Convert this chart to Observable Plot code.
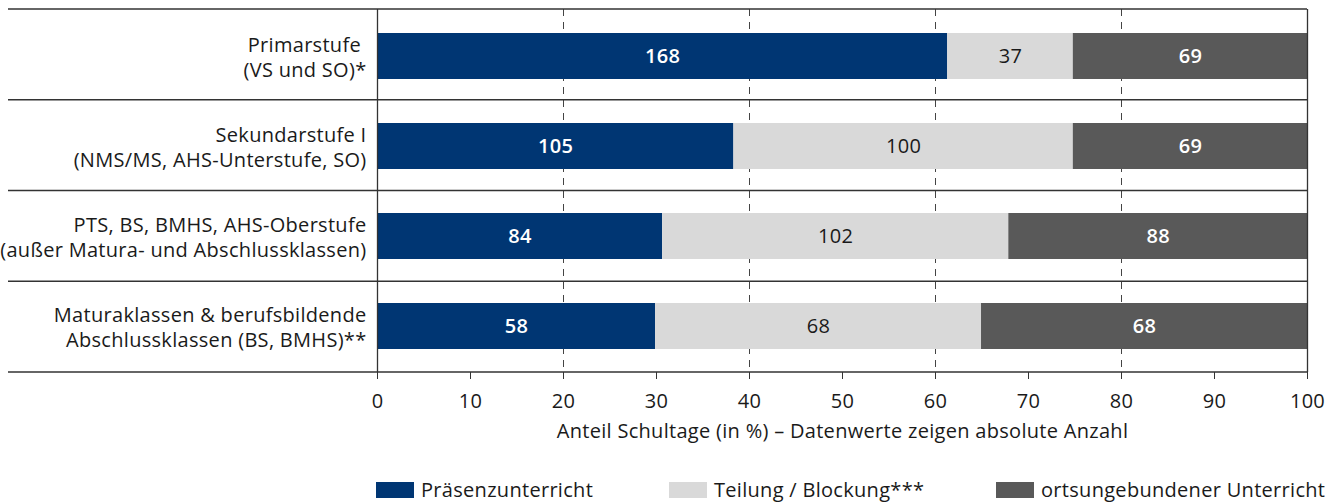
<!DOCTYPE html>
<html><head><meta charset="utf-8">
<script src="https://cdn.jsdelivr.net/npm/d3@7"></script>
<script src="https://cdn.jsdelivr.net/npm/@observablehq/plot@0.6"></script>
<style>
body{margin:0;background:#fff;font-family:"Open Sans",sans-serif;}
#chart{position:relative;width:1332px;height:503px;overflow:hidden;}
.legend{position:absolute;top:482px;left:0;width:1332px;height:16px;font-size:20px;letter-spacing:0.3px;color:#1a1a1a}
.item{position:absolute;top:0;height:16px;display:flex;align-items:center;gap:7px;white-space:nowrap;line-height:16px}
.sw{width:38px;height:16px;display:inline-block;flex:none}
</style></head><body><div id="chart"></div>
<script>
const categories = [
  "Primarstufe\u00a0\n(VS und SO)*",
  "Sekundarstufe I\n(NMS/MS, AHS-Unterstufe, SO)",
  "PTS, BS, BMHS, AHS-Oberstufe\n(außer Matura- und Abschlussklassen)",
  "Maturaklassen & berufsbildende\nAbschlussklassen (BS, BMHS)**"
];
const series = ["Präsenzunterricht", "Teilung / Blockung***", "ortsungebundener Unterricht"];
const praesenz = [168, 105, 84, 58];
const teilung = [37, 100, 102, 68];
const ortsungebunden = [69, 69, 88, 68];
const colors = ["#003673", "#d9d9d9", "#595959"];
const xTicks = [0, 10, 20, 30, 40, 50, 60, 70, 80, 90, 100];
const gridTicks = [20, 40, 60, 80];
const axisLabel = "Anteil Schultage (in %) – Datenwerte zeigen absolute Anzahl";
const legendLeft = [376, 669, 996];

const seriesValues = [praesenz, teilung, ortsungebunden];
const data = categories.flatMap((cat, i) =>
  series.map((s, j) => ({cat, series: s, value: seriesValues[j][i]})));

const FONT = "'Open Sans', sans-serif";
const FS = 20;
const stackOpts = {offset: "normalize", order: series};

function separators(index, scales, values, dim) {
  const g = d3.create("svg:g");
  const top = dim.marginTop, bottom = dim.height - dim.marginBottom;
  const n = categories.length;
  for (let i = 0; i <= n; i++) {
    const yy = top + (bottom - top) * i / n;
    g.append("line").attr("x1", 8).attr("x2", dim.width - dim.marginRight)
      .attr("y1", yy).attr("y2", yy).attr("stroke", "#333").attr("stroke-width", 1.3);
  }
  return g.node();
}

const plot = Plot.plot({
  width: 1332, height: 455,
  marginLeft: 377, marginRight: 25, marginTop: 9, marginBottom: 83,
  style: {fontFamily: FONT, fontSize: FS + "px", color: "#1a1a1a", background: "#fff", letterSpacing: "0.3px"},
  x: {domain: [0, 1], axis: null},
  y: {domain: categories, axis: null, paddingInner: 0.493, paddingOuter: 0.2465},
  color: {domain: series, range: colors},
  marks: [
    Plot.ruleX(gridTicks, {x: d => d / 100, stroke: "#444", strokeDasharray: "7,6", strokeWidth: 1}),
    Plot.barX(data, Plot.stackX(stackOpts, {x: "value", y: "cat", fill: "series"})),
    Plot.text(data, Plot.stackX(stackOpts, {
      x: "value", y: "cat", z: "series",
      text: d => d.series !== series[1] ? d.value : null,
      fill: "#fff", fontWeight: 600, fontSize: FS
    })),
    Plot.text(data, Plot.stackX(stackOpts, {
      x: "value", y: "cat", z: "series",
      text: d => d.series === series[1] ? d.value : null,
      fill: "#1a1a1a", fontSize: FS
    })),
    Plot.ruleX([0, 1], {stroke: "#333", strokeWidth: 1.3}),
    separators,
    Plot.axisX(xTicks.map(d => d / 100), {
      tickFormat: d => Math.round(d * 100), tickSize: 7, tickPadding: 14,
      fontSize: FS, stroke: "#333", fill: "#1a1a1a", label: null
    }),
    Plot.text([axisLabel], {frameAnchor: "bottom", dy: 65, text: d => d, fontSize: FS, fill: "#1a1a1a"}),
    Plot.text(categories, {
      y: d => d, text: d => d, frameAnchor: "left", textAnchor: "end",
      dx: -11, lineHeight: 1.25, fontSize: FS, fill: "#1a1a1a"
    })
  ]
});

const chart = document.getElementById("chart");
chart.appendChild(plot);
const legend = document.createElement("div");
legend.className = "legend";
series.forEach((s, j) => {
  const item = document.createElement("div");
  item.className = "item";
  item.style.left = legendLeft[j] + "px";
  const sw = document.createElement("span");
  sw.className = "sw";
  sw.style.background = colors[j];
  const t = document.createElement("span");
  t.textContent = s;
  item.appendChild(sw); item.appendChild(t);
  legend.appendChild(item);
});
chart.appendChild(legend);
</script></body></html>
